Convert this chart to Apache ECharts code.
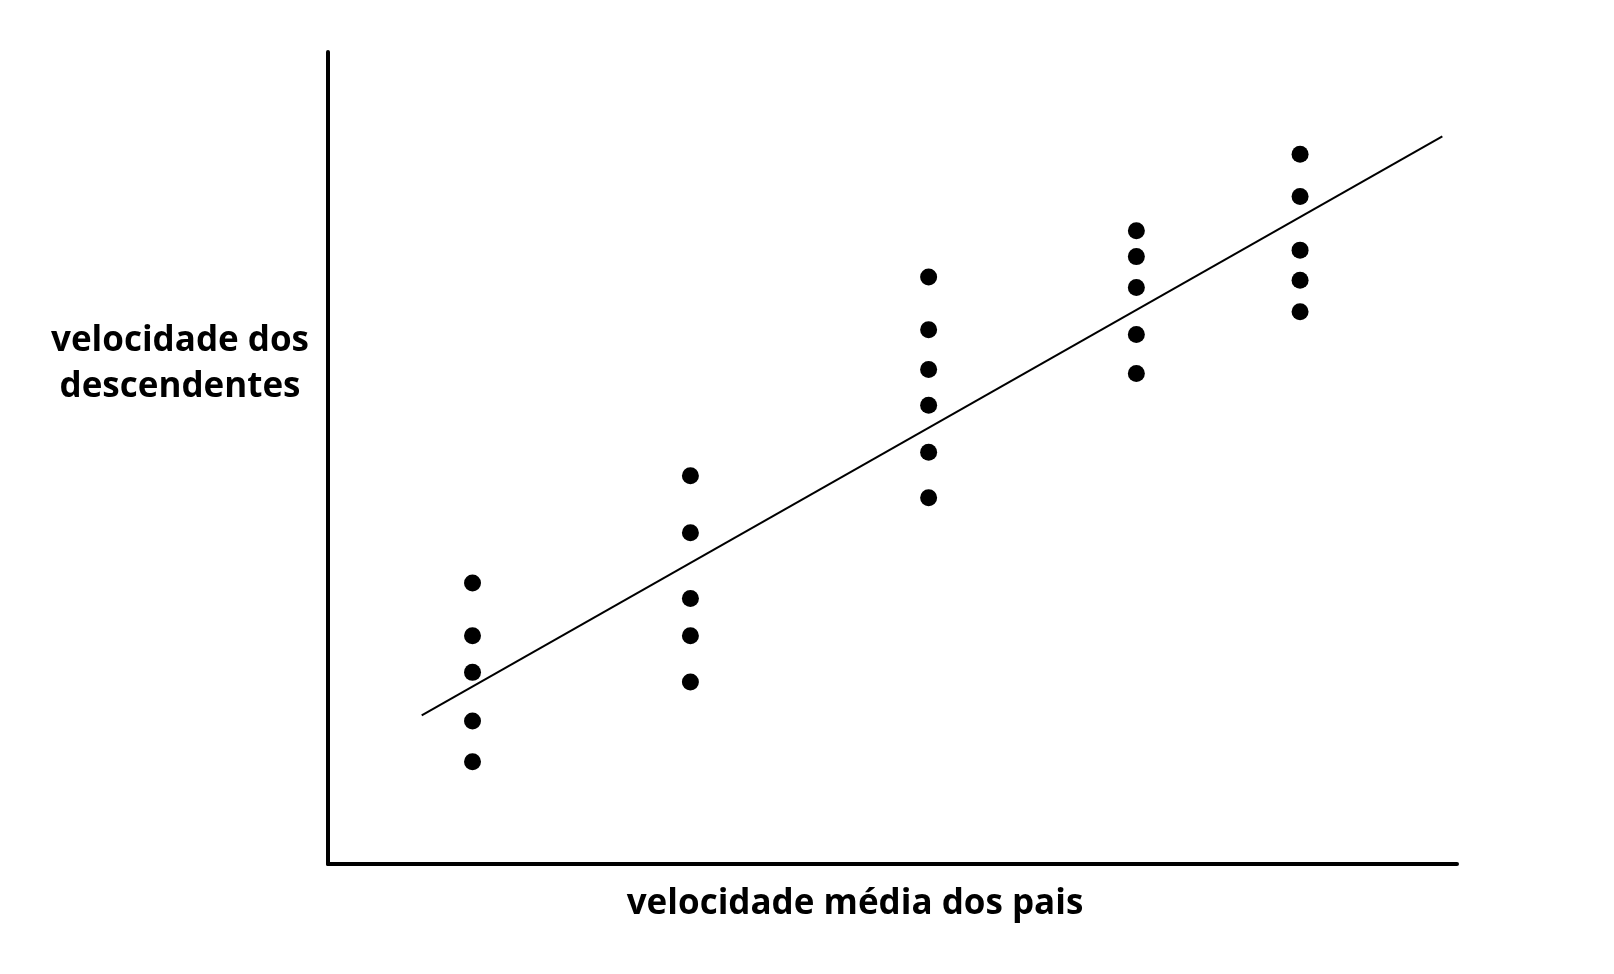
<!DOCTYPE html>
<html>
<head>
<meta charset="utf-8">
<title>velocidade dos descendentes</title>
<script src="https://cdn.jsdelivr.net/npm/echarts@6/dist/echarts.min.js"></script>
<style>
  html, body { margin: 0; padding: 0; background: #fff; }
  #chart { width: 1614px; height: 974px; }
</style>
</head>
<body>
<div id="chart"></div>
<script>
// parent mean speed (x) for each group of offspring
const parentSpeed = [12.8, 32.1, 53.2, 71.6, 86.1];
// offspring speeds (y) per group
const offspringSpeed = [
  [34.6, 28.1, 23.6, 17.6, 12.6],
  [47.8, 40.8, 32.7, 28.1, 22.4],
  [72.3, 65.8, 60.9, 56.5, 50.7, 45.1],
  [78.0, 74.8, 71.0, 65.2, 60.4],
  [87.4, 82.2, 75.6, 71.9, 68.0]
];
// fitted line end points
const trendX = [8.3, 98.7];
const trendY = [18.3, 89.6];

const xLabel = 'velocidade média dos pais';
const yLabel = 'velocidade dos\ndescendentes';

const points = [];
parentSpeed.forEach((x, i) => {
  offspringSpeed[i].forEach(y => points.push([x, y]));
});

const chart = echarts.init(document.getElementById('chart'), null, { renderer: 'canvas' });
const font = "'Open Sans', 'Noto Sans', sans-serif";

chart.setOption({
  animation: false,
  backgroundColor: '#ffffff',
  grid: { left: 328, top: 52, right: 157, bottom: 110, containLabel: false },
  xAxis: {
    type: 'value', min: 0, max: 100,
    axisLine: { show: true, onZero: false, lineStyle: { color: '#000', width: 4 } },
    axisTick: { show: false }, axisLabel: { show: false }, splitLine: { show: false }
  },
  yAxis: {
    type: 'value', min: 0, max: 100,
    axisLine: { show: true, onZero: false, lineStyle: { color: '#000', width: 4 } },
    axisTick: { show: false }, axisLabel: { show: false }, splitLine: { show: false }
  },
  graphic: [
    {
      type: 'text',
      style: {
        text: xLabel, x: 855, y: 904, textAlign: 'center', textVerticalAlign: 'middle',
        font: 'bold 35px ' + font, fill: '#000'
      }
    },
    {
      type: 'text',
      style: {
        text: yLabel, x: 180, y: 364, textAlign: 'center', textVerticalAlign: 'middle',
        font: 'bold 35px ' + font, lineHeight: 46, fill: '#000'
      }
    }
  ],
  series: [
    {
      type: 'line',
      data: trendX.map((x, i) => [x, trendY[i]]),
      symbol: 'none',
      lineStyle: { color: '#000', width: 2 },
      silent: true
    },
    {
      type: 'scatter',
      data: points,
      symbol: 'circle',
      symbolSize: 17,
      itemStyle: { color: '#000', opacity: 1 }
    }
  ]
});
</script>
</body>
</html>
